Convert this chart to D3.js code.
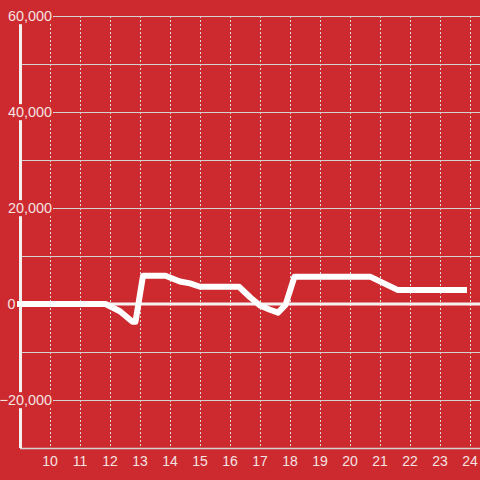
<!DOCTYPE html>
<html>
<head>
<meta charset="utf-8">
<script src="https://cdn.jsdelivr.net/npm/d3@7"></script>
<style>
html,body{margin:0;padding:0;background:#cd2a2f;}
svg{display:block;}
text{font-family:"Liberation Sans",Arial,sans-serif;fill:#f4e3e3;}
</style>
</head>
<body>
<svg id="chart" width="480" height="480"></svg>
<script>
const times  = [8.9, 11.85, 12.33, 12.75, 12.85, 13.1, 13.85, 14.33, 14.67, 15, 16.3, 16.67, 17, 17.33, 17.6, 17.85, 18.15, 20.67, 21.6, 23.9];
const values = [0, 0, -1500, -3700, -3700, 5900, 5900, 4700, 4300, 3600, 3600, 1400, -300, -1200, -1800, -200, 5700, 5700, 2900, 2900];
const xTicks = [10, 11, 12, 13, 14, 15, 16, 17, 18, 19, 20, 21, 22, 23, 24];
const yGrid  = [-30000, -20000, -10000, 0, 10000, 20000, 30000, 40000, 50000, 60000];
const yLabels = [-20000, 0, 20000, 40000, 60000];

(function () {
const mLeft = 20, mRight = 480, mTop = 16, mBottom = 448;
const x = d3.scaleLinear().domain([9, 9 + (mRight - mLeft) / 30]).range([mLeft, mRight]);
const y = d3.scaleLinear().domain([-30000, 60000]).range([mBottom, mTop]);
const svg = d3.select("#chart");
const fmt = d3.format(",");

// vertical dashed grid
svg.append("g").selectAll("line").data(xTicks).join("line")
  .attr("x1", d => Math.round(x(d)) + 0.5).attr("x2", d => Math.round(x(d)) + 0.5)
  .attr("y1", mTop).attr("y2", mBottom)
  .attr("stroke", "#dcdcdc").attr("stroke-width", 1).attr("stroke-dasharray", "2,2");

// horizontal grid
svg.append("g").selectAll("line").data(yGrid.filter(d => d !== 0)).join("line")
  .attr("x1", mLeft).attr("x2", mRight)
  .attr("y1", d => Math.round(y(d)) + 0.5).attr("y2", d => Math.round(y(d)) + 0.5)
  .attr("stroke", "#d2d2d2").attr("stroke-width", d => d === -30000 ? 1.5 : 1);

// y axis line
svg.append("line").attr("x1", mLeft + 0.5).attr("x2", mLeft + 0.5)
  .attr("y1", mTop).attr("y2", mBottom).attr("stroke", "#f4f0f0").attr("stroke-width", 3);

// zero line
svg.append("line").attr("x1", mLeft).attr("x2", mRight)
  .attr("y1", y(0)).attr("y2", y(0)).attr("stroke", "#f6f2f2").attr("stroke-width", 3);

// data line
const pts = times.map((t, i) => [t, values[i]]);
svg.append("path").datum(pts)
  .attr("d", d3.line().x(d => x(d[0])).y(d => y(d[1])))
  .attr("fill", "none").attr("stroke", "#ffffff").attr("stroke-width", 6)
  .attr("stroke-linejoin", "round");

// y labels with background
const yl = svg.append("g").selectAll("g").data(yLabels).join("g");
yl.append("text")
  .attr("x", d => d === 0 ? 15.5 : 52).attr("y", d => y(d)).attr("dy", "0.36em")
  .attr("text-anchor", "end").attr("font-size", 14.4).text(d => fmt(d));
yl.each(function(d) {
  if (d === 0) return;
  const t = d3.select(this).select("text");
  const b = t.node().getBBox();
  d3.select(this).insert("rect", "text")
    .attr("x", b.x - 1).attr("y", b.y).attr("width", b.width + 2).attr("height", b.height)
    .attr("fill", "#cd2a2f");
});

// x labels
svg.append("g").selectAll("text").data(xTicks).join("text")
  .attr("x", d => x(d)).attr("y", 461).attr("dy", "0.36em")
  .attr("text-anchor", "middle").attr("font-size", 14).text(d => d);
})();
</script>
</body>
</html>
